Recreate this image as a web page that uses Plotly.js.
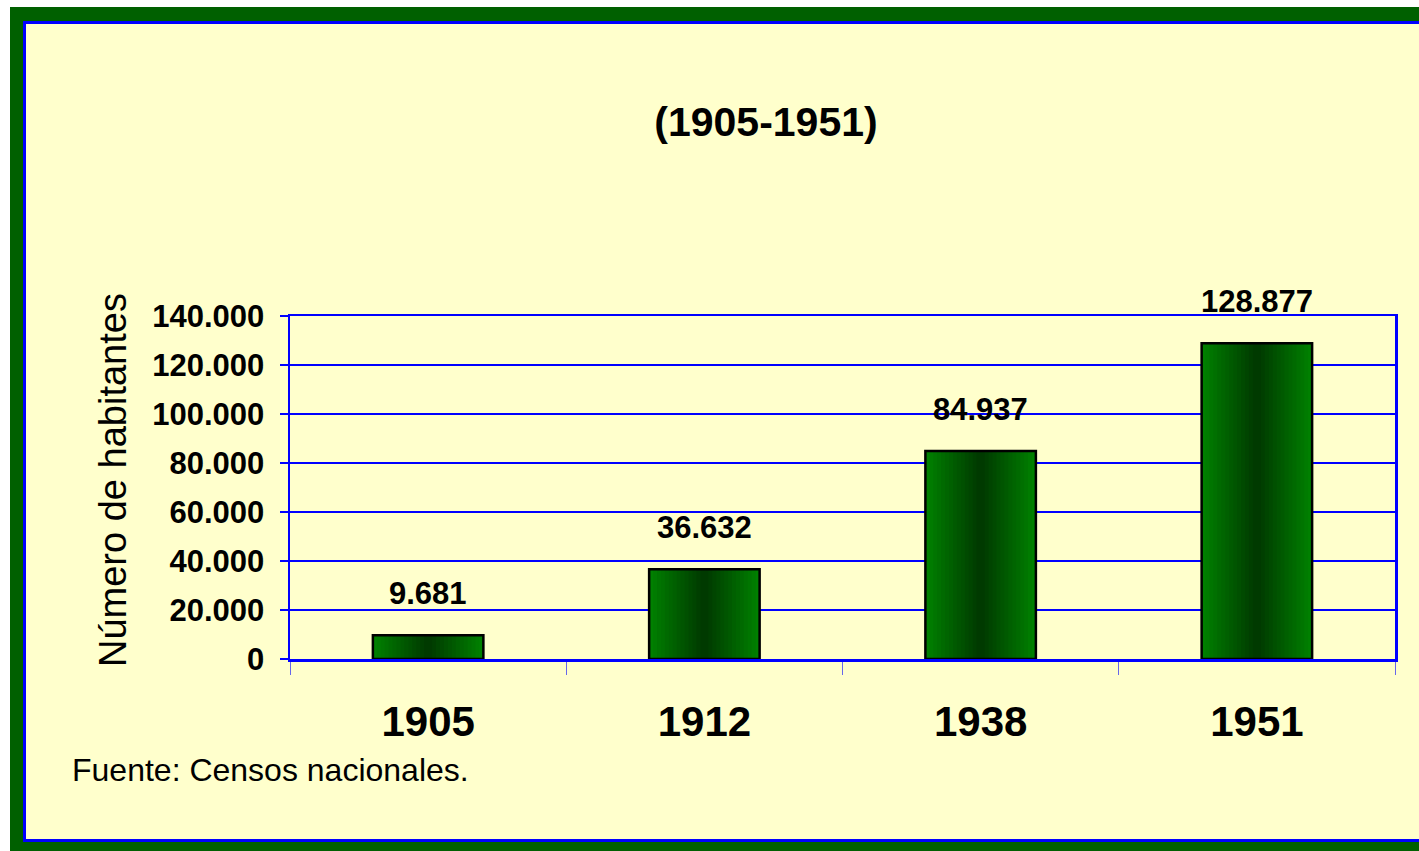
<!DOCTYPE html>
<html>
<head>
<meta charset="utf-8">
<script src="https://cdn.plot.ly/plotly-3.0.1.min.js"></script>
<style>
html,body{margin:0;padding:0;background:#ffffff;}
#chart{width:1419px;height:851px;}
</style>
</head>
<body>
<div id="chart"></div>
<script>
// ---- data ----
const years = ['1905', '1912', '1938', '1951'];
const population = [9681, 36632, 84937, 128877];
const yTickValues = [0, 20000, 40000, 60000, 80000, 100000, 120000, 140000];
const chartTitle = '(1905-1951)';
const yTitle = 'Número de habitantes';
const sourceNote = 'Fuente: Censos nacionales.';

// ---- styling ----
const FONT = 'Arial, "Liberation Sans", Helvetica, sans-serif';
const W = 1419, H = 851;
const M = {l: 290, r: 24, t: 316, b: 192};
const plotW = W - M.l - M.r, plotH = H - M.t - M.b;
const px = x => (x - M.l) / plotW;
const py = y => (H - M.b - y) / plotH;

const fmt = v => String(v).replace(/\B(?=(\d{3})+(?!\d))/g, '.');

const BAR_W = 0.40;
const STEPS = 14;
const edge = [0, 128, 0], center = [0, 58, 0];
const traces = [];
for (let k = 0; k < STEPS; k++) {
  const t = k / (STEPS - 1);
  const c = edge.map((e, i) => Math.round(e + (center[i] - e) * t));
  traces.push({
    type: 'bar', x: years, y: population,
    width: BAR_W * (1 - k / STEPS),
    marker: {color: `rgb(${c[0]},${c[1]},${c[2]})`, line: {width: 0}},
    hoverinfo: 'skip', showlegend: false
  });
}
// outline on top
traces.push({
  type: 'bar', x: years, y: population, width: BAR_W,
  marker: {color: 'rgba(0,0,0,0)', line: {color: '#000000', width: 2.5}},
  hovertemplate: '%{x}: %{y:,d}<extra></extra>', showlegend: false
});

const annotations = years.map((yr, i) => ({
  x: i, y: population[i], xref: 'x', yref: 'y',
  text: fmt(population[i]), showarrow: false,
  yanchor: 'bottom', yshift: 22,
  font: {family: FONT, size: 31, color: '#000000', weight: 'bold'}
}));
annotations.push({
  xref: 'paper', yref: 'paper', x: px(113), y: py(480),
  xanchor: 'center', yanchor: 'middle', textangle: -90,
  text: yTitle, showarrow: false,
  font: {family: FONT, size: 38, color: '#000000'}
});
annotations.push({
  xref: 'paper', yref: 'paper', x: px(70), y: py(770),
  xanchor: 'left', yanchor: 'middle',
  text: sourceNote, showarrow: false,
  font: {family: FONT, size: 32, color: '#000000'}
});

const shapes = [
  {type: 'rect', xref: 'paper', yref: 'paper', layer: 'below',
   x0: px(10), x1: px(1440), y0: py(7), y1: py(860),
   fillcolor: '#006000', line: {width: 0}},
  {type: 'rect', xref: 'paper', yref: 'paper', layer: 'below',
   x0: px(23), x1: px(1440), y0: py(21), y1: py(842),
   fillcolor: '#0000ff', line: {width: 0}},
  {type: 'rect', xref: 'paper', yref: 'paper', layer: 'below',
   x0: px(26), x1: px(1440), y0: py(24), y1: py(839),
   fillcolor: '#ffffcc', line: {width: 0}}
];

const layout = {
  width: W, height: H,
  margin: {l: M.l, r: M.r, t: M.t, b: M.b, pad: 0},
  paper_bgcolor: '#ffffff', plot_bgcolor: 'rgba(0,0,0,0)',
  separators: ',.',
  barmode: 'overlay', bargap: 0.6,
  showlegend: false,
  title: {
    text: chartTitle, x: 766 / W, xanchor: 'center', y: 1 - 122 / H, yanchor: 'middle',
    font: {family: FONT, size: 41, color: '#000000', weight: 'bold'}
  },
  xaxis: {
    type: 'category', categoryorder: 'array', categoryarray: years,
    range: [-0.5, years.length - 0.5], autorange: false,
    showline: true, linecolor: '#0000ff', linewidth: 2.5, mirror: true,
    showgrid: false, zeroline: false,
    ticks: 'outside', tickson: 'boundaries', ticklen: 13, tickwidth: 1,
    tickcolor: 'rgba(0,0,255,0.6)', ticklabelstandoff: 24,
    tickfont: {family: FONT, size: 42, color: '#000000', weight: 'bold'}
  },
  yaxis: {
    range: [0, 140000], autorange: false, tickvals: yTickValues, tickformat: ',d',
    showline: true, linecolor: '#0000ff', linewidth: 2.5, mirror: true,
    showgrid: true, gridcolor: '#0000ff', gridwidth: 2, zeroline: false,
    ticks: 'outside', ticklen: 8, tickwidth: 2, tickcolor: '#0000ff',
    ticklabelstandoff: 9,
    tickfont: {family: FONT, size: 31, color: '#000000', weight: 'bold'}
  },
  annotations: annotations,
  shapes: shapes
};

Plotly.newPlot('chart', traces, layout, {displayModeBar: false, staticPlot: true});
</script>
</body>
</html>
